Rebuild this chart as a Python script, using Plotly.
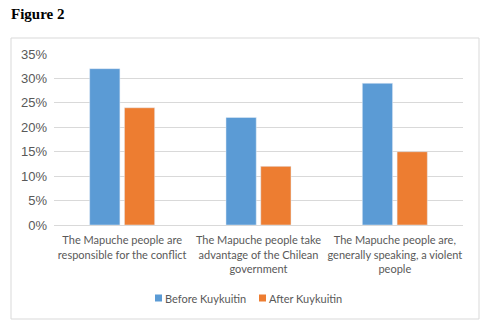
import plotly.graph_objects as go

categories = [
    "The Mapuche people are<br>responsible for the conflict",
    "The Mapuche people take<br>advantage of the Chilean<br>government",
    "The Mapuche people are,<br>generally speaking, a violent<br>people",
]
series_names = ["Before Kuykuitin", "After Kuykuitin"]
before = [0.32, 0.22, 0.29]
after = [0.24, 0.12, 0.15]
colors = ["#5b9bd5", "#ed7d31"]
tick_vals = [0, 0.05, 0.10, 0.15, 0.20, 0.25, 0.30, 0.35]
tick_text = ["0%", "5%", "10%", "15%", "20%", "25%", "30%", "35%"]

W, H = 491, 329
L, R, T, B = 54, 28, 54, 104
pw, ph = W - L - R, H - T - B

def px_x(x):
    return (x - L) / pw

def px_y(y):
    return (H - B - y) / ph

fig = go.Figure()
for name, vals, col in zip(series_names, [before, after], colors):
    fig.add_bar(x=categories, y=vals, name=name, marker_color=col, showlegend=False)

shapes = [dict(type="rect", xref="paper", yref="paper",
               x0=px_x(11), x1=px_x(479), y0=px_y(319), y1=px_y(38),
               line=dict(color="#d9d9d9", width=1), fillcolor="rgba(0,0,0,0)")]
annotations = [dict(text="<b>Figure 2</b>", xref="paper", yref="paper",
                    x=px_x(9), y=px_y(14), xanchor="left", yanchor="middle",
                    showarrow=False,
                    font=dict(family="Liberation Serif, Times New Roman, serif", size=15, color="black"))]

# custom legend
leg_x = [155, 259]
leg_y = 298
for lx, name, col in zip(leg_x, series_names, colors):
    shapes.append(dict(type="rect", xref="paper", yref="paper",
                       x0=px_x(lx), x1=px_x(lx + 7), y0=px_y(leg_y + 3.5), y1=px_y(leg_y - 3.5),
                       line=dict(width=0), fillcolor=col))
    annotations.append(dict(text=name, xref="paper", yref="paper",
                            x=px_x(lx + 8), y=px_y(leg_y), xanchor="left", yanchor="middle",
                            showarrow=False, font=dict(size=11, color="#595959")))

fig.update_layout(
    width=W, height=H,
    margin=dict(l=L, r=R, t=T, b=B, autoexpand=False),
    paper_bgcolor="white", plot_bgcolor="white",
    barmode="group", bargap=0.49, bargroupgap=0.13,
    font=dict(family="Lato, Liberation Sans, sans-serif", color="#595959"),
    showlegend=False,
    shapes=shapes,
    annotations=annotations,
)
fig.update_xaxes(showgrid=False, showline=True, linecolor="#d9d9d9", ticks="",
                 tickangle=0, automargin=False, ticklabelstandoff=5,
                 tickfont=dict(size=11, color="#595959"))
fig.update_yaxes(range=[0, 0.35], tickvals=tick_vals, ticktext=tick_text,
                 gridcolor="#d9d9d9", zeroline=False, showline=False, automargin=False,
                 tickfont=dict(family="Liberation Sans, Arial, sans-serif", size=13, color="#595959"),
                 ticklabelstandoff=6)

fig.write_html("out.html")
